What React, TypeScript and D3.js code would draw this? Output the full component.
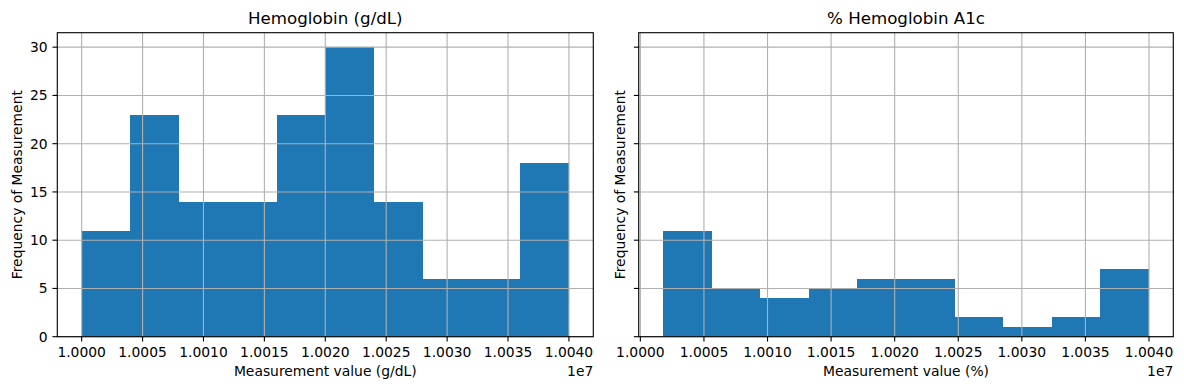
import React from "react";
import * as d3 from "d3";

const hgbCounts = [11, 23, 14, 14, 23, 30, 14, 6, 6, 18];
const a1cCounts = [11, 5, 4, 5, 6, 6, 2, 1, 2, 7];
const hgbRange = [1.0e7, 1.004e7];
const a1cRange = [1.000178e7, 1.004e7];
const xTickValues = [1.0e7, 1.0005e7, 1.001e7, 1.0015e7, 1.002e7, 1.0025e7, 1.003e7, 1.0035e7, 1.004e7];
const yTickValues = [0, 5, 10, 15, 20, 25, 30];
const titles = ["Hemoglobin (g/dL)", "% Hemoglobin A1c"];
const xLabels = ["Measurement value (g/dL)", "Measurement value (%)"];
const yLabel = "Frequency of Measurement";

const W = 1184;
const H = 390;
const TOP = 32.7;
const BOTTOM = 336.7;
const FONT = "DejaVu Sans, sans-serif";
const FS = 13.89;
const TICK = 4.86;
const LW = 1.11;

function Panel({ left, right, counts, range, title, xlabel, showYTickLabels }) {
  const [lo, hi] = range;
  const m = (hi - lo) * 0.05;
  const x = d3.scaleLinear().domain([lo - m, hi + m]).range([left, right]);
  const y = d3.scaleLinear().domain([0, 31.5]).range([BOTTOM, TOP]);
  const n = counts.length;
  const step = (hi - lo) / n;
  const ticksX = xTickValues.filter((t) => x(t) >= left - 0.5 && x(t) <= right + 0.5);
  const cx = (left + right) / 2;
  return (
    <g>
      <g shapeRendering="crispEdges">
        {counts.map((c, i) => {
          const x0 = Math.round(x(lo + i * step));
          const x1 = Math.round(x(lo + (i + 1) * step));
          const y0 = Math.round(y(c));
          return (
            <rect key={i} x={x0} y={y0} width={x1 - x0} height={Math.round(y(0)) - y0} fill="#1f77b4" />
          );
        })}
      </g>
      {ticksX.map((t) => (
        <line key={"gx" + t} x1={x(t)} x2={x(t)} y1={TOP} y2={BOTTOM} stroke="#b0b0b0" strokeWidth={LW} />
      ))}
      {yTickValues.map((t) => (
        <line key={"gy" + t} x1={left} x2={right} y1={y(t)} y2={y(t)} stroke="#b0b0b0" strokeWidth={LW} />
      ))}
      <rect x={left} y={TOP} width={right - left} height={BOTTOM - TOP} fill="none" stroke="#000" strokeWidth={LW} />
      {ticksX.map((t) => (
        <g key={"tx" + t}>
          <line x1={x(t)} x2={x(t)} y1={BOTTOM} y2={BOTTOM + TICK} stroke="#000" strokeWidth={LW} />
          <text x={x(t)} y={BOTTOM + TICK + 4.86} dy="0.76em" textAnchor="middle" fontSize={FS} fontFamily={FONT} fill="#000">
            {(t / 1e7).toFixed(4)}
          </text>
        </g>
      ))}
      {yTickValues.map((t) => (
        <g key={"ty" + t}>
          <line x1={left - TICK} x2={left} y1={y(t)} y2={y(t)} stroke="#000" strokeWidth={LW} />
          {showYTickLabels && (
            <text x={left - TICK - 4.86} y={y(t)} dy="0.35em" textAnchor="end" fontSize={FS} fontFamily={FONT} fill="#000">
              {t}
            </text>
          )}
        </g>
      ))}
      <text x={cx} y={TOP - 8.33} textAnchor="middle" fontSize={16.67} fontFamily={FONT} fill="#000">
        {title}
      </text>
      <text x={cx} y={376} textAnchor="middle" fontSize={FS} fontFamily={FONT} fill="#000">
        {xlabel}
      </text>
      <text x={right} y={376} textAnchor="end" fontSize={FS} fontFamily={FONT} fill="#000">
        1e7
      </text>
      <text
        transform={`translate(${showYTickLabels ? 22 : left - 14}, ${(TOP + BOTTOM) / 2}) rotate(-90)`}
        textAnchor="middle"
        fontSize={FS}
        fontFamily={FONT}
        fill="#000"
      >
        {yLabel}
      </text>
    </g>
  );
}

export default function App() {
  return (
    <svg
      width={W}
      height={H}
      style={{ position: "absolute", left: 0, top: 0, background: "#fff" }}
    >
      <rect width={W} height={H} fill="#fff" />
      <Panel left={57.3} right={593.3} counts={hgbCounts} range={hgbRange} title={titles[0]} xlabel={xLabels[0]} showYTickLabels={true} />
      <Panel left={638.7} right={1173.3} counts={a1cCounts} range={a1cRange} title={titles[1]} xlabel={xLabels[1]} showYTickLabels={false} />
    </svg>
  );
}
